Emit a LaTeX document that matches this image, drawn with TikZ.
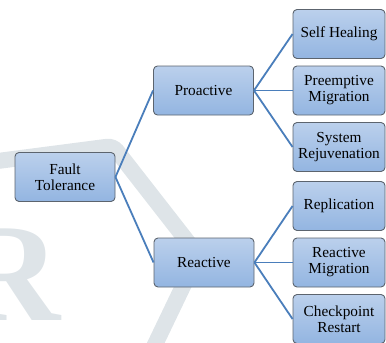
\documentclass[tikz,border=0pt]{standalone}
\usepackage{fontspec}
\setmainfont{Liberation Serif}
\definecolor{wm}{RGB}{222,228,232}
\definecolor{boxtop}{RGB}{187,208,236}
\definecolor{boxbot}{RGB}{147,181,225}
\definecolor{boxline}{RGB}{92,100,110}
\definecolor{conn}{RGB}{74,126,187}
\tikzset{
  box/.style={draw=boxline, line width=0.9pt, rounded corners=4pt,
    top color=boxtop, bottom color=boxbot, align=center, inner sep=1pt,
    font=\fontsize{15.3}{16}\selectfont},
  midbox/.style={box, minimum width=100pt, minimum height=49pt},
  leafbox/.style={box, minimum width=92pt, minimum height=49pt},
  link/.style={draw=conn, line width=1.8pt}
}
\begin{document}
\begin{tikzpicture}[x=1pt,y=-1pt]
\useasboundingbox (0,0) rectangle (386,343);
% watermark
\begin{scope}
\clip (0,0) rectangle (386,343);
\draw[wm, line width=16pt, rounded corners=6pt] (-10,162) -- (113,146) -- (198,255) -- (150,355);
\node[wm, anchor=base east, inner sep=0pt] (wmr) at (61,320) {\fontsize{140}{140}\selectfont\bfseries R};
\end{scope}
% nodes
\node[midbox] (ft) at (65,177) {Fault\\Tolerance};
\node[midbox] (pro) at (203.5,90.5) {Proactive};
\node[midbox] (rea) at (204,262.5) {Reactive};
\node[leafbox] (sh) at (339,34) {Self Healing};
\node[leafbox] (pm) at (339,90.5) {Preemptive\\Migration};
\node[leafbox] (sr) at (339,147) {System\\Rejuvenation};
\node[leafbox] (rep) at (339,206) {Replication};
\node[leafbox] (rm) at (339,262.5) {Reactive\\Migration};
\node[leafbox] (cr) at (339,319) {Checkpoint\\Restart};
% connectors
\foreach \a/\b in {ft/pro, ft/rea, pro/sh, pro/pm, pro/sr, rea/rep, rea/rm, rea/cr}
  \draw[link] (\a.east) -- (\b.west);
\end{tikzpicture}
\end{document}
